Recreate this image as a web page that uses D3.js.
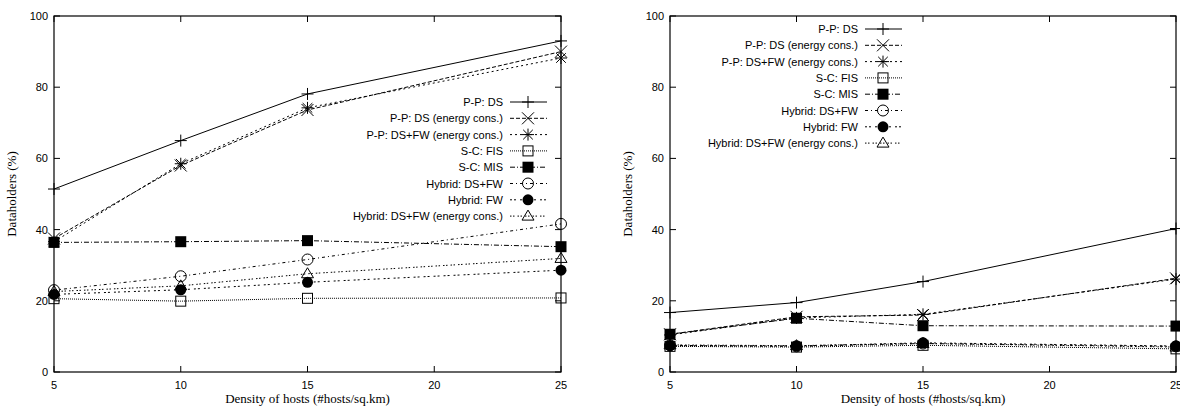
<!DOCTYPE html>
<html>
<head>
<meta charset="utf-8">
<script src="https://cdn.jsdelivr.net/npm/d3@7"></script>
<style>
  body { margin: 0; background: #fff; }
  .tick-label { font-family: "Liberation Sans", Arial, sans-serif; font-size: 11px; }
  .axis-title { font-family: "Liberation Serif", "Times New Roman", serif; font-size: 13px; }
  .legend-text { font-family: "Liberation Sans", Arial, sans-serif; font-size: 11px; }
</style>
</head>
<body>
<svg width="1180" height="407"></svg>
<script>
// x values (density of hosts)
const densities = [5, 10, 15, 25];
const xTicks = [5, 10, 15, 20, 25];
const yTicks = [0, 20, 40, 60, 80, 100];

const seriesNames = [
  'P-P: DS',
  'P-P: DS (energy cons.)',
  'P-P: DS+FW (energy cons.)',
  'S-C: FIS',
  'S-C: MIS',
  'Hybrid: DS+FW',
  'Hybrid: FW',
  'Hybrid: DS+FW (energy cons.)'
];

// left panel values
const leftPPDS      = [51.4, 65.0, 78.1, 93.0];
const leftPPDSe     = [37.5, 58.0, 73.6, 90.0];
const leftPPDSFWe   = [36.6, 58.5, 74.2, 88.2];
const leftSCFIS     = [20.6, 19.9, 20.7, 20.8];
const leftSCMIS     = [36.4, 36.6, 36.9, 35.2];
const leftHybDSFW   = [23.0, 26.9, 31.6, 41.6];
const leftHybFW     = [21.8, 23.1, 25.2, 28.6];
const leftHybDSFWe  = [22.6, 24.2, 27.6, 31.9];

// right panel values
const rightPPDS     = [16.7, 19.5, 25.4, 40.3];
const rightPPDSe    = [10.6, 15.5, 16.0, 26.3];
const rightPPDSFWe  = [10.4, 15.2, 16.2, 26.1];
const rightSCFIS    = [7.2, 7.0, 7.5, 6.5];
const rightSCMIS    = [10.6, 15.1, 13.0, 12.9];
const rightHybDSFW  = [7.5, 7.2, 8.0, 7.2];
const rightHybFW    = [7.4, 7.3, 8.2, 7.3];
const rightHybDSFWe = [7.6, 7.4, 8.0, 7.0];

const leftSeries = [leftPPDS, leftPPDSe, leftPPDSFWe, leftSCFIS, leftSCMIS, leftHybDSFW, leftHybFW, leftHybDSFWe];
const rightSeries = [rightPPDS, rightPPDSe, rightPPDSFWe, rightSCFIS, rightSCMIS, rightHybDSFW, rightHybFW, rightHybDSFWe];

const dashes = ['none', '4,2', '2,3', '1,1', '5,2,1,2', '3,3,1,3', '2,2,2,4', '1.5,1.5,1.5,3'];
const markers = ['plus', 'cross', 'star', 'square', 'squareFill', 'circle', 'circleFill', 'triangle'];

const svg = d3.select('svg');

function drawMarker(g, type, x, y) {
  const m = g.append('g').attr('transform', `translate(${x},${y})`);
  const s = 6;
  if (type === 'plus') {
    m.append('path').attr('d', `M${-s},0H${s}M0,${-s}V${s}`).attr('stroke', '#000').attr('fill', 'none');
  } else if (type === 'cross') {
    m.append('path').attr('d', `M${-s},${-s}L${s},${s}M${-s},${s}L${s},${-s}`).attr('stroke', '#000').attr('fill', 'none');
  } else if (type === 'star') {
    m.append('path').attr('d', `M${-s},0H${s}M0,${-s}V${s}M${-s*0.8},${-s*0.8}L${s*0.8},${s*0.8}M${-s*0.8},${s*0.8}L${s*0.8},${-s*0.8}`)
      .attr('stroke', '#000').attr('fill', 'none');
  } else if (type === 'square') {
    m.append('rect').attr('x', -5).attr('y', -5).attr('width', 10).attr('height', 10)
      .attr('fill', 'none').attr('stroke', '#000');
  } else if (type === 'squareFill') {
    m.append('rect').attr('x', -5.5).attr('y', -5.5).attr('width', 11).attr('height', 11).attr('fill', '#000');
  } else if (type === 'circle') {
    m.append('circle').attr('r', 5.5).attr('fill', 'none').attr('stroke', '#000');
  } else if (type === 'circleFill') {
    m.append('circle').attr('r', 5.5).attr('fill', '#000');
  } else if (type === 'triangle') {
    m.append('path').attr('d', 'M0,-6L6,4H-6Z').attr('fill', 'none').attr('stroke', '#000');
  }
}

function panel(left, right, values, legendEndX, legendY) {
  const top = 16, bottom = 372;
  const x = d3.scaleLinear().domain([5, 25]).range([left, right]);
  const y = d3.scaleLinear().domain([0, 100]).range([bottom, top]);
  const g = svg.append('g');

  // frame
  g.append('rect').attr('x', left).attr('y', top).attr('width', right - left).attr('height', bottom - top)
    .attr('fill', 'none').attr('stroke', '#000').attr('stroke-width', 1.2);

  // ticks (inward, mirrored)
  xTicks.forEach(t => {
    g.append('line').attr('x1', x(t)).attr('x2', x(t)).attr('y1', bottom).attr('y2', bottom - 6).attr('stroke', '#000');
    g.append('line').attr('x1', x(t)).attr('x2', x(t)).attr('y1', top).attr('y2', top + 6).attr('stroke', '#000');
    g.append('text').attr('class', 'tick-label').attr('x', x(t)).attr('y', bottom + 17)
      .attr('text-anchor', 'middle').text(t);
  });
  yTicks.forEach(t => {
    g.append('line').attr('x1', left).attr('x2', left + 6).attr('y1', y(t)).attr('y2', y(t)).attr('stroke', '#000');
    g.append('line').attr('x1', right).attr('x2', right - 6).attr('y1', y(t)).attr('y2', y(t)).attr('stroke', '#000');
    g.append('text').attr('class', 'tick-label').attr('x', left - 6).attr('y', y(t) + 4)
      .attr('text-anchor', 'end').text(t);
  });

  // axis titles
  g.append('text').attr('class', 'axis-title')
    .attr('transform', `translate(${left - 38},${(top + bottom) / 2}) rotate(-90)`)
    .attr('text-anchor', 'middle').text('Dataholders (%)');
  g.append('text').attr('class', 'axis-title')
    .attr('x', (left + right) / 2).attr('y', 403)
    .attr('text-anchor', 'middle').text('Density of hosts (#hosts/sq.km)');

  const line = d3.line().x((d, i) => x(densities[i])).y(d => y(d));

  values.forEach((vals, k) => {
    g.append('path').datum(vals).attr('d', line)
      .attr('fill', 'none').attr('stroke', '#000').attr('stroke-width', 1)
      .attr('stroke-dasharray', dashes[k]);
    vals.forEach((v, i) => drawMarker(g, markers[k], x(densities[i]), y(v)));
  });

  // legend
  const lg = g.append('g');
  seriesNames.forEach((name, k) => {
    const ly = legendY + k * 16.3;
    lg.append('text').attr('class', 'legend-text').attr('x', legendEndX).attr('y', ly + 4)
      .attr('text-anchor', 'end').text(name);
    lg.append('line').attr('x1', legendEndX + 7).attr('x2', legendEndX + 44).attr('y1', ly).attr('y2', ly)
      .attr('stroke', '#000').attr('stroke-dasharray', dashes[k]);
    drawMarker(lg, markers[k], legendEndX + 25, ly);
  });
}

panel(54, 561, leftSeries, 503, 102);
panel(670, 1176, rightSeries, 858, 29);
</script>
</body>
</html>
